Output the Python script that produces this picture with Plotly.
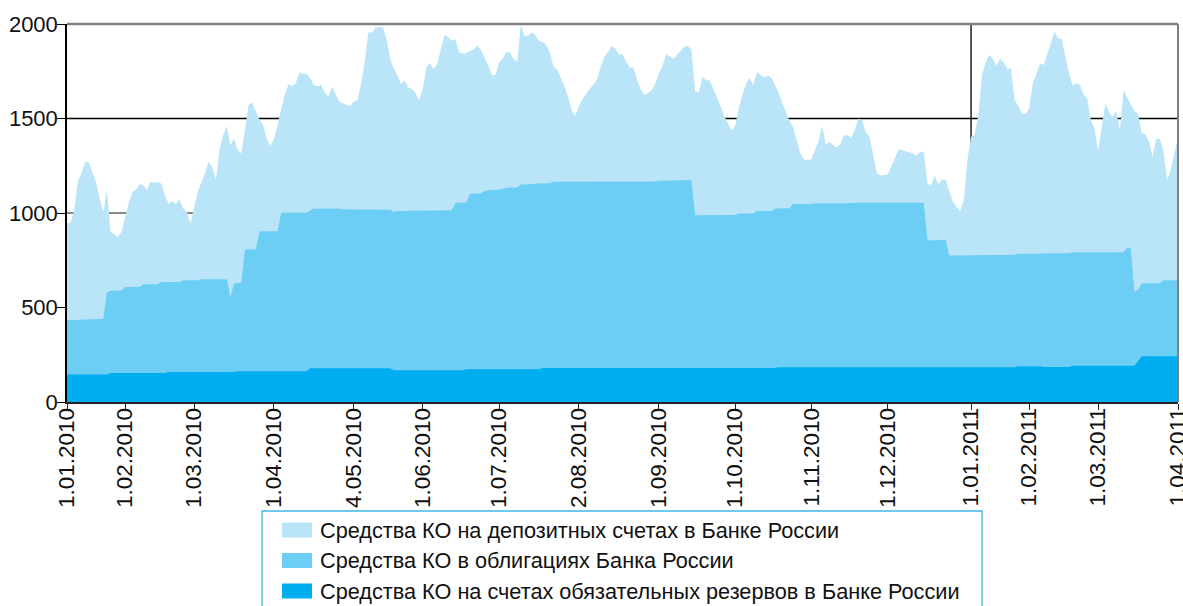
import plotly.graph_objects as go

# ---------------- data ----------------
series_names = [
    "Средства КО на депозитных счетах в Банке России",
    "Средства КО в облигациях Банка России",
    "Средства КО на счетах обязательных резервов в Банке России",
]
colors = ["#BAE5F8", "#6DCEF5", "#00AEEF"]

tick_days = [0, 16, 35, 57, 79, 98, 119, 141, 163, 184, 205, 226, 249, 265, 284, 306]
tick_labels = ["1.01.2010", "1.02.2010", "1.03.2010", "1.04.2010", "4.05.2010",
               "1.06.2010", "1.07.2010", "2.08.2010", "1.09.2010", "1.10.2010",
               "1.11.2010", "1.12.2010", "1.01.2011", "1.02.2011", "1.03.2011",
               "1.04.2011"]

# trading-day index (0 = 1.01.2010 ... 306 = 1.04.2011)
total_days = list(range(307))
# top of the stack: deposits + bonds + reserves, bn rub
total_level = [
    944, 948, 1015, 1168, 1213, 1271, 1267, 1213, 1165, 1080,
    1001, 1124, 902, 888, 874, 899, 980, 1054, 1110, 1124,
    1154, 1147, 1121, 1165, 1161, 1163, 1156, 1091, 1048, 1064,
    1047, 1073, 1024, 1006, 944, 1038, 1112, 1161, 1209, 1271,
    1244, 1174, 1333, 1410, 1460, 1359, 1394, 1336, 1315, 1438,
    1571, 1583, 1535, 1495, 1465, 1391, 1354, 1394, 1465, 1553,
    1629, 1680, 1672, 1686, 1744, 1737, 1735, 1712, 1677, 1671,
    1677, 1636, 1615, 1668, 1624, 1589, 1581, 1574, 1566, 1589,
    1597, 1686, 1800, 1957, 1954, 1982, 1986, 1982, 1920, 1818,
    1765, 1726, 1682, 1703, 1664, 1656, 1633, 1597, 1659, 1774,
    1792, 1760, 1790, 1871, 1942, 1929, 1911, 1919, 1850, 1844,
    1844, 1858, 1862, 1887, 1862, 1823, 1783, 1730, 1730, 1795,
    1818, 1850, 1850, 1813, 1800, 1996, 1935, 1938, 1958, 1941,
    1910, 1906, 1889, 1848, 1774, 1761, 1717, 1671, 1615, 1544,
    1514, 1565, 1604, 1629, 1654, 1677, 1708, 1774, 1827, 1850,
    1883, 1871, 1839, 1841, 1800, 1770, 1770, 1707, 1654, 1624,
    1633, 1650, 1682, 1739, 1776, 1840, 1830, 1815, 1837, 1853,
    1880, 1885, 1862, 1645, 1638, 1721, 1703, 1703, 1659, 1610,
    1566, 1514, 1474, 1438, 1460, 1553, 1624, 1682, 1716, 1677,
    1745, 1730, 1717, 1726, 1716, 1677, 1636, 1583, 1534, 1488,
    1453, 1377, 1315, 1283, 1280, 1283, 1333, 1382, 1460, 1360,
    1377, 1359, 1347, 1364, 1412, 1412, 1398, 1442, 1500, 1491,
    1424, 1405, 1315, 1213, 1198, 1200, 1204, 1244, 1288, 1336,
    1333, 1327, 1324, 1315, 1304, 1324, 1322, 1156, 1147, 1197,
    1152, 1177, 1176, 1112, 1059, 1032, 1011, 1068, 1280, 1403,
    1414, 1518, 1730, 1795, 1836, 1818, 1779, 1818, 1795, 1763,
    1765, 1598, 1567, 1527, 1523, 1553, 1686, 1735, 1791, 1783,
    1839, 1897, 1959, 1924, 1919, 1823, 1739, 1673, 1686, 1677,
    1627, 1606, 1491, 1447, 1324, 1456, 1580, 1535, 1509, 1540,
    1438, 1650, 1615, 1576, 1539, 1527, 1424, 1417, 1377, 1297,
    1394, 1391, 1329, 1174, 1227, 1315, 1403,
]

# top of bonds layer: bonds + reserves
bonds_days = [0, 10, 11, 12, 15, 16, 20, 21, 25, 26, 31, 32, 36, 37, 44, 45, 46, 48, 49, 52,
              53, 58, 59, 66, 67, 68, 75, 76, 89, 90, 91, 101, 106, 107, 110, 111, 114, 115, 116, 119,
              120, 121, 124, 125, 129, 130, 133, 134, 162, 163, 172, 173, 184, 185, 189, 190, 194, 195, 199, 200,
              205, 206, 215, 216, 236, 237, 242, 243, 261, 262, 268, 269, 276, 277, 291, 292, 293, 294, 295, 296,
              301, 302, 306]
bonds_level = [432, 440, 579, 588, 590, 609, 609, 623, 623, 635, 635, 644, 644, 650, 650, 556, 627, 632, 807, 808,
               904, 904, 1001, 1001, 1015, 1022, 1024, 1020, 1017, 1006, 1010, 1015, 1015, 1054, 1055, 1103, 1103, 1115, 1121, 1123,
               1128, 1133, 1135, 1151, 1153, 1158, 1158, 1165, 1167, 1170, 1174, 988, 990, 997, 997, 1010, 1010, 1024, 1025, 1047,
               1047, 1052, 1052, 1054, 1054, 854, 858, 775, 779, 785, 785, 787, 787, 792, 792, 815, 813, 582, 595, 628,
               628, 644, 644]

# required reserves
reserve_days = [0, 11, 12, 27, 28, 46, 47, 66, 67, 89, 90, 109, 110, 130, 131, 150, 151, 172, 173, 195,
                196, 261, 262, 268, 269, 276, 277, 294, 295, 296, 306]
reserve_level = [146, 146, 154, 154, 159, 159, 163, 163, 178, 178, 168, 168, 173, 173, 180, 180, 177, 177, 180, 180,
                 184, 184, 189, 189, 185, 185, 192, 192, 217, 242, 242]

assert len(total_days) == len(total_level)
assert len(bonds_days) == len(bonds_level)
assert len(reserve_days) == len(reserve_level)

# ---------------- figure ----------------
W, H = 1183, 606
L, R, T, B = 67, 5, 24, 204
FONT = "Liberation Sans, Arial, sans-serif"


def px_x(x):
    return (x - L) / (W - L - R)


def px_y(y):
    return (H - B - y) / (H - T - B)


fig = go.Figure()
layers = [(total_days, total_level), (bonds_days, bonds_level), (reserve_days, reserve_level)]
for (xd, yd), name, col in zip(layers, series_names, colors):
    fig.add_trace(go.Scatter(
        x=xd, y=yd, name=name, mode="lines", fill="tozeroy",
        fillcolor=col, line=dict(width=0, color=col), showlegend=False,
        hoverinfo="x+y+name",
    ))

shapes = [
    dict(type="line", xref="paper", yref="y", x0=0, x1=1, y0=500, y1=500,
         line=dict(color="#8a8a8a", width=2), layer="below"),
    dict(type="line", xref="paper", yref="y", x0=0, x1=1, y0=1000, y1=1000,
         line=dict(color="#8a8a8a", width=2), layer="below"),
    dict(type="line", xref="paper", yref="y", x0=0, x1=1, y0=1500, y1=1500,
         line=dict(color="#000000", width=1.3), layer="below"),
    dict(type="line", xref="x", yref="paper", x0=tick_days[12], x1=tick_days[12], y0=0, y1=1,
         line=dict(color="#000000", width=1.3), layer="below"),
    dict(type="line", xref="paper", yref="paper", x0=0, x1=1, y0=1, y1=1,
         line=dict(color="#808080", width=2.5), layer="above"),
    dict(type="line", xref="paper", yref="paper", x0=1, x1=1, y0=0, y1=1,
         line=dict(color="#808080", width=2), layer="above"),
    # legend frame
    dict(type="rect", xref="paper", yref="paper", x0=px_x(262), x1=px_x(982),
         y0=px_y(660), y1=px_y(511), line=dict(color="#3CB6E8", width=1.3),
         fillcolor="rgba(0,0,0,0)", layer="above"),
]
annotations = []
for i, (name, col) in enumerate(zip(series_names, colors)):
    cy = 530 + 30.5 * i
    shapes.append(dict(type="rect", xref="paper", yref="paper",
                       x0=px_x(282), x1=px_x(312), y0=px_y(cy + 7.5), y1=px_y(cy - 7.5),
                       line=dict(width=0), fillcolor=col, layer="above"))
    annotations.append(dict(xref="paper", yref="paper", x=px_x(318), y=px_y(cy),
                            xanchor="left", yanchor="middle", showarrow=False,
                            text=name, font=dict(family=FONT, size=21.7, color="#111111")))

fig.update_layout(
    width=W, height=H, autosize=False,
    margin=dict(l=L, r=R, t=T, b=B, pad=0, autoexpand=False),
    paper_bgcolor="white", plot_bgcolor="white",
    font=dict(family=FONT, size=22, color="#111111"),
    shapes=shapes, annotations=annotations,
    showlegend=False,
    xaxis=dict(range=[0, 306], tickvals=tick_days, ticktext=tick_labels,
               tickangle=-90, ticks="outside", ticklen=6, tickwidth=1.3, tickcolor="#222222",
               showline=True, linecolor="#222222", linewidth=2, showgrid=False, zeroline=False,
               automargin=False, ticklabeloverflow="allow", ticklabelstandoff=-11,
               tickfont=dict(family=FONT, size=22.5, color="#111111")),
    yaxis=dict(range=[0, 2000], tickvals=[0, 500, 1000, 1500, 2000],
               ticks="outside", ticklen=8, tickwidth=1.3, tickcolor="#000000",
               showline=True, linecolor="#000000", linewidth=1.5, showgrid=False, zeroline=False,
               automargin=False, ticklabeloverflow="allow", ticklabelstandoff=-5,
               tickfont=dict(family=FONT, size=22, color="#111111")),
)

fig.write_html(
    "out.html",
    config={"displayModeBar": False},
    post_script="document.body.style.margin='0';document.body.style.overflow='hidden';",
)
